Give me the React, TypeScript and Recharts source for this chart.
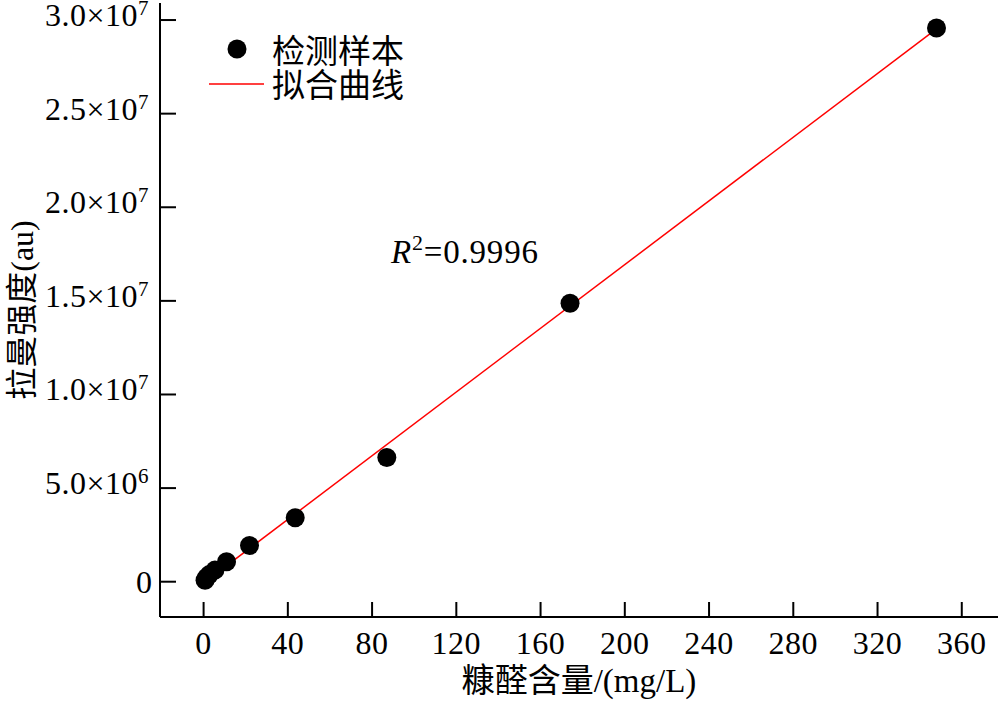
import { ComposedChart, Scatter, Line, XAxis, YAxis, Legend } from "recharts";

// furfural content (mg/L) and Raman intensity (au) of measured samples
const sampleConc = [0.7, 1.4, 2.7, 5.4, 10.9, 21.8, 43.5, 87, 174, 348];
const sampleIntensity = [80000, 220000, 380000, 620000, 1070000, 1930000, 3420000, 6630000, 14870000, 29570000];

// fitted line endpoints
const fitConc = [0, 348];
const fitIntensity = [-77000, 29530000];

const xTicks = [0, 40, 80, 120, 160, 200, 240, 280, 320, 360];
const yTicks = [0, 5000000, 10000000, 15000000, 20000000, 25000000, 30000000];

const samples = sampleConc.map((x, i) => ({ x, y: sampleIntensity[i] }));
const fitLine = fitConc.map((x, i) => ({ x, y: fitIntensity[i] }));

const FONT = '"Liberation Serif", "Times New Roman", "Noto Sans CJK SC", serif';

function XTick(props: any) {
  const { x, y, payload } = props;
  return (
    <text x={x} y={y} textAnchor="middle" fontFamily={FONT} fontSize={32} letterSpacing={0.5} fill="#000">
      {payload.value}
    </text>
  );
}

function YTick(props: any) {
  const { x, y, payload } = props;
  const v = payload.value as number;
  if (v === 0) {
    return (
      <text x={x + 3} y={y + 11} textAnchor="end" fontFamily={FONT} fontSize={32} fill="#000">
        0
      </text>
    );
  }
  const exp = Math.floor(Math.log10(v));
  const mant = (v / Math.pow(10, exp)).toFixed(1);
  return (
    <text x={x} y={y + 6} textAnchor="end" fontFamily={FONT} fontSize={32} letterSpacing={0.5} fill="#000">
      {mant}×10
      <tspan fontSize={21} dy={-11}>{exp}</tspan>
    </text>
  );
}

function XLabel(props: any) {
  const { viewBox } = props;
  return (
    <text
      x={viewBox.x + viewBox.width / 2}
      y={viewBox.y + 75}
      textAnchor="middle"
      fontFamily={FONT}
      fontSize={33}
      fill="#000"
    >
      糠醛含量/(mg/L)
    </text>
  );
}

function YLabel(props: any) {
  const { viewBox } = props;
  const cx = viewBox.x + 22;
  const cy = viewBox.y + viewBox.height / 2;
  return (
    <text
      x={cx}
      y={cy}
      transform={`rotate(-90, ${cx}, ${cy})`}
      textAnchor="middle"
      dominantBaseline="central"
      fontFamily={FONT}
      fontSize={32}
      fill="#000"
    >
      拉曼强度(au)
    </text>
  );
}

function LegendBox() {
  return (
    <svg width={220} height={80}>
      <circle cx={28} cy={19} r={9.5} fill="#000" />
      <text x={63} y={33} fontFamily={FONT} fontSize={33} fill="#000">检测样本</text>
      <line x1={0} y1={54} x2={55} y2={54} stroke="#ff0000" strokeWidth={1.5} />
      <text x={63} y={67} fontFamily={FONT} fontSize={33} fill="#000">拟合曲线</text>
    </svg>
  );
}

export default function App() {
  const axisLine = { stroke: "#000", strokeWidth: 2 };
  return (
    <div style={{ position: "absolute", left: 0, top: 0, width: 1003, height: 704, background: "#fff" }}>
      <ComposedChart width={1003} height={704} margin={{ top: 3, right: 5, bottom: 0, left: 0 }}>
        <XAxis
          dataKey="x"
          type="number"
          domain={[-20.7, 377.2]}
          ticks={xTicks}
          allowDataOverflow
          height={87}
          axisLine={axisLine}
          tickLine={axisLine}
          tickSize={-15}
          tickMargin={52}
          tick={<XTick />}
          label={<XLabel />}
        />
        <XAxis
          xAxisId="top"
          orientation="top"
          type="number"
          domain={[-20.7, 377.2]}
          height={0}
          axisLine={axisLine}
          tick={false}
          tickLine={false}
        />
        <YAxis
          dataKey="y"
          type="number"
          domain={[-1885000, 30910000]}
          ticks={yTicks}
          allowDataOverflow
          width={160}
          axisLine={axisLine}
          tickLine={axisLine}
          tickSize={-16}
          tickMargin={27}
          tick={<YTick />}
          label={<YLabel />}
        />
        <YAxis
          yAxisId="right"
          orientation="right"
          type="number"
          domain={[-1885000, 30910000]}
          width={0}
          axisLine={axisLine}
          tick={false}
          tickLine={false}
        />
        <Legend
          layout="vertical"
          align="center"
          verticalAlign="middle"
          content={<LegendBox />}
          wrapperStyle={{ left: 209, top: 30, width: 220, height: 80 }}
        />
        <Line
          data={fitLine}
          dataKey="y"
          stroke="#ff0000"
          strokeWidth={1.5}
          dot={false}
          isAnimationActive={false}
        />
        <Scatter
          data={samples}
          dataKey="y"
          fill="#000"
          shape={(p: any) => <circle cx={p.cx} cy={p.cy} r={9.5} fill="#000" />}
          isAnimationActive={false}
        />
      </ComposedChart>
      <svg
        width={1003}
        height={704}
        style={{ position: "absolute", left: 0, top: 0, pointerEvents: "none" }}
      >
        <text x={391} y={263} fontFamily={FONT} fontSize={33} letterSpacing={0.8} fill="#000">
          <tspan fontStyle="italic">R</tspan>
          <tspan fontSize={22} dy={-13}>2</tspan>
          <tspan dy={13}>=0.9996</tspan>
        </text>
      </svg>
    </div>
  );
}
